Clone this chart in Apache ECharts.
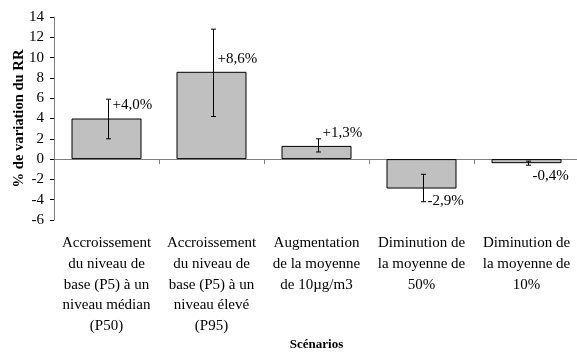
<!DOCTYPE html>
<html>
<head>
<meta charset="utf-8">
<script src="https://cdn.jsdelivr.net/npm/echarts@6/dist/echarts.min.js"></script>
<style>
  html, body { margin: 0; padding: 0; background: #fff; }
  #chart { width: 577px; height: 352px; }
</style>
</head>
<body>
<div id="chart"></div>
<script>
// Scenario labels (category axis)
const categories = [
  'Accroissement\ndu niveau de\nbase (P5) à un\nniveau médian\n(P50)',
  'Accroissement\ndu niveau de\nbase (P5) à un\nniveau élevé\n(P95)',
  'Augmentation\nde la moyenne\nde 10µg/m3',
  'Diminution de\nla moyenne de\n50%',
  'Diminution de\nla moyenne de\n10%'
];
// % change in relative risk per scenario
const values = [4.0, 8.6, 1.3, -2.9, -0.4];
// Confidence interval bounds
const lowerBounds = [2.0, 4.2, 0.7, -4.2, -0.6];
const upperBounds = [5.9, 12.8, 2.0, -1.5, -0.2];
// Y axis range
const yMin = -6, yMax = 14, yStep = 2;

const FONT = '"Liberation Serif", "Times New Roman", serif';

function fmt(v) {
  return (v > 0 ? '+' : '') + v.toFixed(1).replace('.', ',') + '%';
}

const errorData = values.map((v, i) => [i, lowerBounds[i], upperBounds[i], v]);

const chart = echarts.init(document.getElementById('chart'), null, { renderer: 'canvas' });

chart.setOption({
  animation: false,
  backgroundColor: '#ffffff',
  grid: { left: 54, top: 17, width: 525, bottom: 132, containLabel: false, outerBoundsMode: 'none' },
  xAxis: [
    {
      type: 'category',
      data: categories,
      position: 'bottom',
      axisLine: { onZero: true, lineStyle: { color: '#808080', width: 1 } },
      axisTick: { show: true, length: 5, interval: 0, lineStyle: { color: '#808080' } },
      axisLabel: { show: false },
      splitLine: { show: false }
    },
    {
      type: 'category',
      data: categories,
      position: 'bottom',
      axisLine: { show: false, onZero: false },
      axisTick: { show: false },
      splitLine: { show: false },
      axisLabel: {
        interval: 0,
        margin: 13,
        color: '#000',
        fontFamily: FONT,
        fontSize: 15,
        lineHeight: 20.7,
        align: 'center',
        verticalAlign: 'top'
      },
      name: 'Scénarios',
      nameLocation: 'middle',
      nameGap: 125,
      nameMoveOverlap: false,
      nameTextStyle: {
        color: '#000',
        fontFamily: FONT,
        fontSize: 13,
        fontWeight: 'bold',
        verticalAlign: 'middle'
      }
    }
  ],
  yAxis: {
    type: 'value',
    min: yMin,
    max: yMax,
    interval: yStep,
    axisLine: { show: true, lineStyle: { color: '#808080', width: 1 } },
    axisTick: { show: true, length: 4, lineStyle: { color: '#000' } },
    splitLine: { show: false },
    axisLabel: { color: '#000', fontFamily: FONT, fontSize: 15, margin: 10 },
    name: '% de variation du RR',
    nameLocation: 'middle',
    nameGap: 27,
    nameMoveOverlap: false,
    nameTextStyle: { color: '#000', fontFamily: FONT, fontSize: 14.6, fontWeight: 'bold' }
  },
  series: [
    {
      type: 'bar',
      xAxisIndex: 0,
      data: values,
      barWidth: 70,
      z: 2,
      itemStyle: { color: '#c0c0c0', borderColor: '#000', borderWidth: 1 }
    },
    {
      type: 'custom',
      xAxisIndex: 0,
      data: errorData,
      z: 5,
      encode: { x: 0, y: [1, 2] },
      renderItem: function (params, api) {
        const i = api.value(0);
        const lo = api.coord([i, api.value(1)]);
        const hi = api.coord([i, api.value(2)]);
        const v = api.value(3);
        const end = api.coord([i, v]);
        const x = Math.round(lo[0]) + 1.5;
        const cap = 2.5;
        const style = { stroke: '#000', lineWidth: 1 };
        const labelY = v >= 0 ? end[1] - 13 : end[1] + 13;
        return {
          type: 'group',
          children: [
            { type: 'line', shape: { x1: x, y1: lo[1], x2: x, y2: hi[1] }, style: style },
            { type: 'line', shape: { x1: x - cap, y1: lo[1], x2: x + cap, y2: lo[1] }, style: style },
            { type: 'line', shape: { x1: x - cap, y1: hi[1], x2: x + cap, y2: hi[1] }, style: style },
            {
              type: 'text',
              style: {
                x: x + 4,
                y: labelY,
                text: fmt(v),
                fill: '#000',
                font: '15px ' + FONT,
                align: 'left',
                verticalAlign: 'middle'
              }
            }
          ]
        };
      }
    }
  ]
});
</script>
</body>
</html>
